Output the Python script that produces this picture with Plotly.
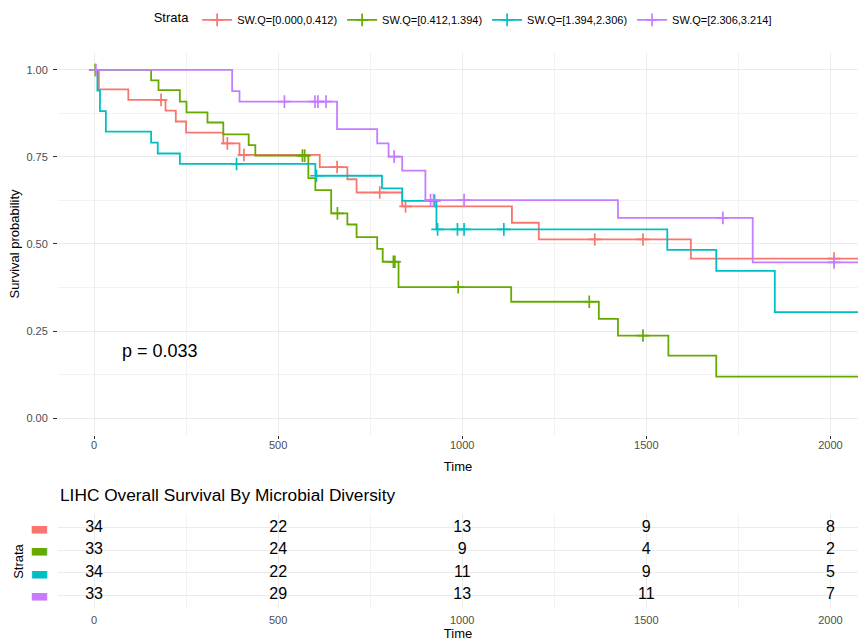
import plotly.graph_objects as go

# ---------------- data ----------------
strata = ["SW.Q=[0.000,0.412)", "SW.Q=[0.412,1.394)", "SW.Q=[1.394,2.306)", "SW.Q=[2.306,3.214]"]
colors = ["#F8766D", "#66AA00", "#00BFC4", "#C77CFF"]

red_t = [0, 13, 93, 194, 222, 250, 351, 395, 613, 688, 713, 837, 1135, 1208, 1621, 2100]
red_s = [1, 0.944, 0.914, 0.883, 0.852, 0.820, 0.789, 0.756, 0.721, 0.686, 0.648, 0.608, 0.561, 0.513, 0.458, 0.458]
red_c = [182, 362, 407, 660, 776, 846, 1360, 1491, 2010]

green_t = [0, 155, 175, 233, 251, 308, 351, 420, 438, 582, 601, 644, 688, 713, 769, 784, 827,
           1133, 1371, 1423, 1560, 1690, 2100]
green_s = [1, 0.970, 0.942, 0.909, 0.878, 0.849, 0.815, 0.784, 0.754, 0.689, 0.655, 0.588, 0.556,
           0.520, 0.486, 0.449, 0.376, 0.334, 0.285, 0.237, 0.179, 0.119, 0.119]
green_c = [3, 566, 572, 661, 813, 817, 989, 1345, 1491]

cyan_t = [0, 9, 16, 32, 155, 173, 233, 601, 782, 837, 930, 1557, 1690, 1849, 2100]
cyan_s = [1, 0.941, 0.882, 0.823, 0.791, 0.760, 0.730, 0.696, 0.660, 0.624, 0.542, 0.483, 0.423, 0.304, 0.304]
cyan_c = [387, 604, 925, 933, 987, 1005, 1113]

purple_t = [0, 375, 395, 660, 769, 800, 837, 900, 1423, 1789, 2100]
purple_s = [1, 0.939, 0.909, 0.830, 0.789, 0.751, 0.711, 0.626, 0.575, 0.447, 0.447]
purple_c = [5, 517, 600, 608, 630, 815, 914, 922, 1005, 1708, 2010]

risk_times = [0, 500, 1000, 1500, 2000]
red_risk = [34, 22, 13, 9, 8]
green_risk = [33, 24, 9, 4, 2]
cyan_risk = [34, 22, 11, 9, 5]
purple_risk = [33, 29, 13, 11, 7]

pval_text = "p = 0.033"
table_title = "LIHC Overall Survival By Microbial Diversity"

# ---------------- figure ----------------
curves = [(red_t, red_s, red_c), (green_t, green_s, green_c),
          (cyan_t, cyan_s, cyan_c), (purple_t, purple_s, purple_c)]
risks = [red_risk, green_risk, cyan_risk, purple_risk]

FONT = "Liberation Sans, Arial, sans-serif"
GRID = "#EBEBEB"
TXT = "#4D4D4D"

fig = go.Figure()


def surv_at(ts, ss, t):
    val = ss[0]
    for ti, si in zip(ts, ss):
        if ti <= t:
            val = si
    return val


for i, (ts, ss, cs) in enumerate(curves):
    fig.add_trace(go.Scatter(x=ts, y=ss, mode="lines", line=dict(color=colors[i], width=1.8, shape="hv"),
                             showlegend=False, hoverinfo="skip", xaxis="x", yaxis="y"))
    fig.add_trace(go.Scatter(x=cs, y=[surv_at(ts, ss, c) for c in cs], mode="markers",
                             marker=dict(symbol="cross-thin", size=9, line=dict(color=colors[i], width=1.7)),
                             showlegend=False, hoverinfo="skip", xaxis="x", yaxis="y"))
    # legend entry
    fig.add_trace(go.Scatter(x=[None], y=[None], mode="lines+markers", name=strata[i],
                             line=dict(color=colors[i], width=1.8),
                             marker=dict(symbol="cross-thin", size=9, line=dict(color=colors[i], width=1.7))))

# risk table
for i, r in enumerate(risks):
    fig.add_trace(go.Scatter(x=risk_times, y=[i] * len(risk_times), mode="text",
                             text=[str(v) for v in r], textfont=dict(size=16, color="black", family=FONT),
                             showlegend=False, hoverinfo="skip", xaxis="x2", yaxis="y2"))

XR = [-98, 2075]
XD = [58 / 858, 1.0]


def xax(**kw):
    d = dict(range=XR, domain=XD, tickvals=risk_times, showgrid=True, gridcolor=GRID, gridwidth=1,
             zeroline=False, showline=False, automargin=False,
             tickfont=dict(size=11, color=TXT, family=FONT),
             minor=dict(dtick=250, tick0=0, showgrid=True, gridcolor="#F2F2F2", ticks=""))
    d.update(kw)
    return d


fig.update_layout(
    template="none",
    width=858, height=641,
    margin=dict(l=0, r=0, t=0, b=0, pad=0),
    paper_bgcolor="white", plot_bgcolor="white",
    font=dict(family=FONT, color="black"),
    xaxis=xax(anchor="y", ticks="outside", ticklen=3, tickcolor="#333333", ticklabelstandoff=-4,
              title=dict(text="Time", font=dict(size=13, color="black"), standoff=12)),
    yaxis=dict(domain=[0.3207, 0.918], anchor="x", range=[-0.05, 1.05], automargin=False,
               tickvals=[0, 0.25, 0.5, 0.75, 1.0], ticktext=["0.00", "0.25", "0.50", "0.75", "1.00"],
               showgrid=True, gridcolor=GRID, zeroline=False, showline=False,
               ticks="outside", ticklen=4, tickcolor="#333333", ticklabelstandoff=3,
               tickfont=dict(size=11, color=TXT, family=FONT),
               minor=dict(dtick=0.125, tick0=0, showgrid=True, gridcolor="#F2F2F2", ticks=""),
               title=dict(text="Survival probability", font=dict(size=13, color="black"), standoff=3)),
    xaxis2=xax(anchor="y2", ticks="outside", ticklen=1, tickcolor="rgba(0,0,0,0)",
               title=dict(text="Time", font=dict(size=13, color="black"), standoff=2)),
    yaxis2=dict(domain=[0.0499, 0.1981], anchor="x2", range=[3.6, -0.6], automargin=False,
                tickvals=[0, 1, 2, 3],
                ticktext=[f'<span style="color:{c}">▬</span>' for c in colors],
                tickfont=dict(size=20, family="DejaVu Sans"),
                showgrid=True, gridcolor=GRID, zeroline=False, showline=False, ticks="",
                ticklabelstandoff=8,
                title=dict(text="Strata", font=dict(size=13, color="black"), standoff=3)),
    legend=dict(orientation="h", x=0.541, xanchor="center", y=0.969, yanchor="middle",
                title=dict(text="Strata", font=dict(size=13, color="black"), side="left"),
                font=dict(size=11, color="black", family=FONT), itemwidth=30,
                bgcolor="rgba(0,0,0,0)"),
    annotations=[
        dict(text=pval_text, x=70, y=0.193, xref="x", yref="y", xanchor="left", yanchor="middle",
             showarrow=False, font=dict(size=18, color="black", family=FONT)),
        dict(text=table_title, x=58 / 858, y=1 - 495 / 641, xref="paper", yref="paper",
             xanchor="left", yanchor="middle", showarrow=False,
             font=dict(size=17.3, color="black", family=FONT)),
    ],
)

fig.write_html("out.html", config={"displayModeBar": False},
               post_script="document.body.style.margin='0';document.body.style.overflow='hidden';")
